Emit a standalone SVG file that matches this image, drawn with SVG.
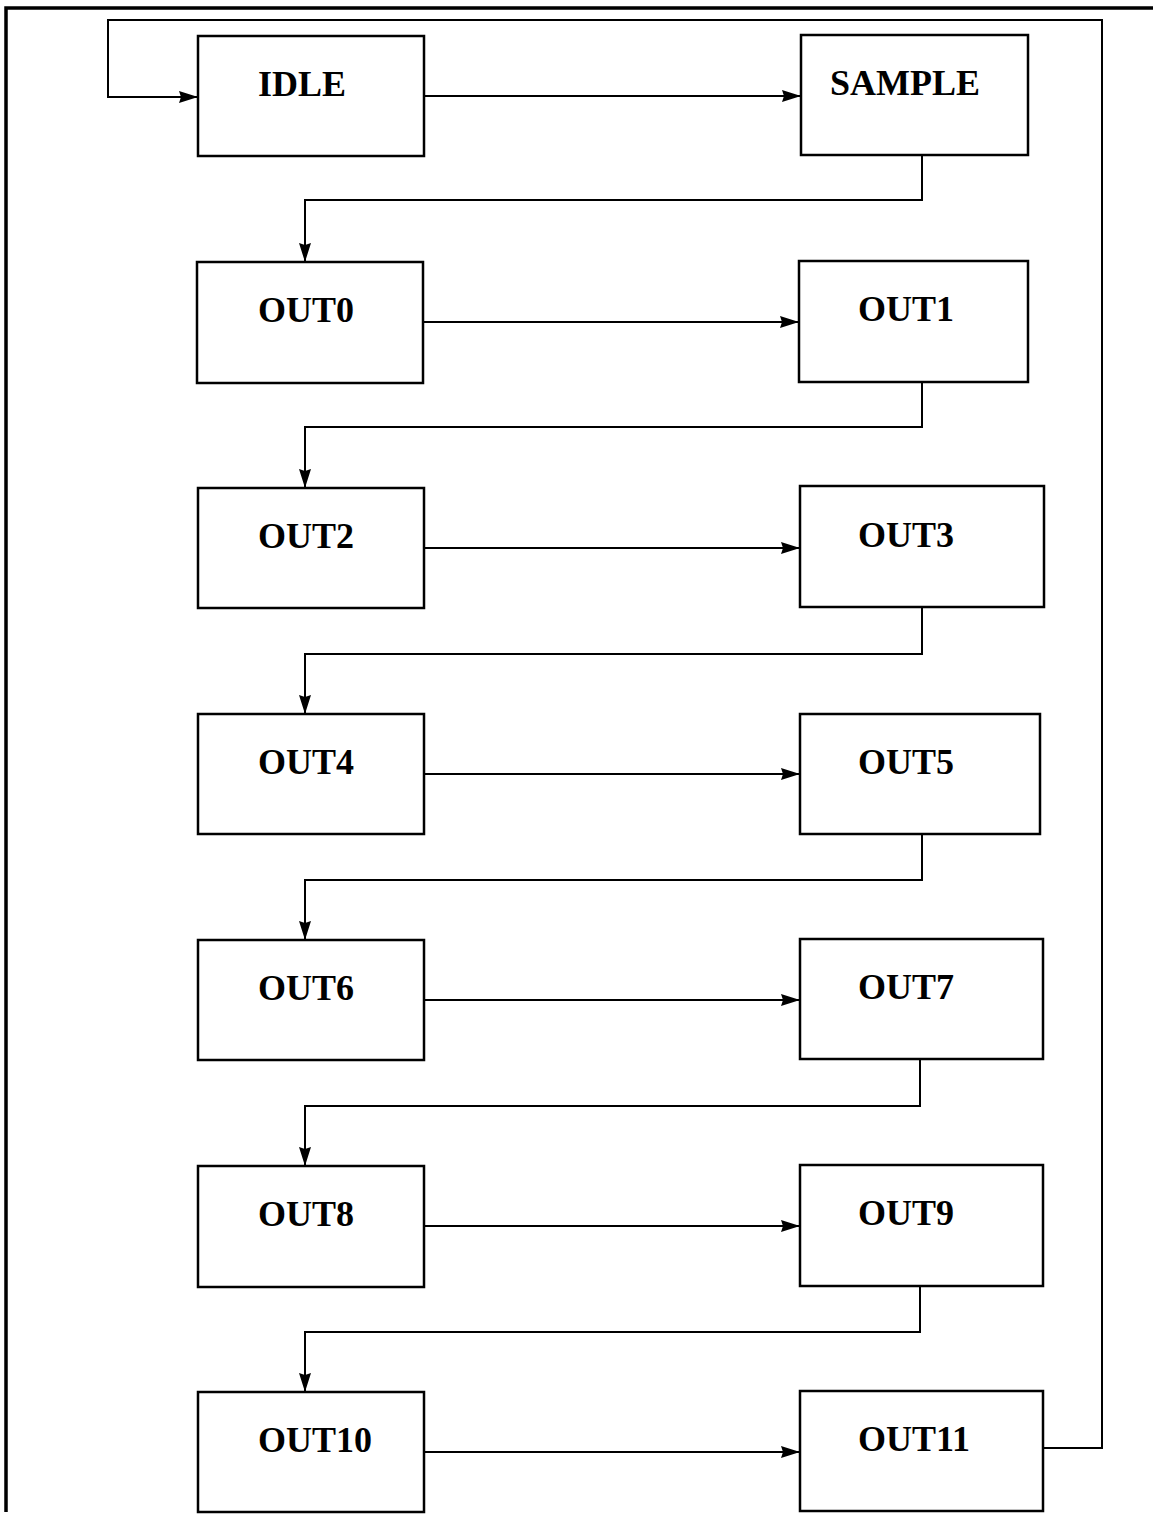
<svg xmlns="http://www.w3.org/2000/svg" width="1153" height="1514" viewBox="0 0 1153 1514">
<style>
.box{fill:#fff;stroke:#000;stroke-width:2.5}
.lbl{font-family:"Liberation Serif","Times New Roman",serif;font-weight:bold;font-size:36px;fill:#000}
.c{fill:none;stroke:#000;stroke-width:2}
.frame{fill:none;stroke:#000;stroke-width:3.5}
</style>
<defs>
<marker id="ah" markerUnits="userSpaceOnUse" markerWidth="20" markerHeight="14" refX="19" refY="7" orient="auto">
<path d="M0,1 L19,7 L0,13 L2,7 Z" fill="#000"/>
</marker>
</defs>
<rect width="1153" height="1514" fill="#fff"/>
<path class="frame" d="M6,1512 V8 H1153"/>
<g id="connectors">
<path class="c" d="M424,96 H801" marker-end="url(#ah)"/>
<path class="c" d="M922,155 V200 H305 V262" marker-end="url(#ah)"/>
<path class="c" d="M423,322 H799" marker-end="url(#ah)"/>
<path class="c" d="M922,382 V427 H305 V488" marker-end="url(#ah)"/>
<path class="c" d="M424,548 H800" marker-end="url(#ah)"/>
<path class="c" d="M922,607 V654 H305 V714" marker-end="url(#ah)"/>
<path class="c" d="M424,774 H800" marker-end="url(#ah)"/>
<path class="c" d="M922,834 V880 H305 V940" marker-end="url(#ah)"/>
<path class="c" d="M424,1000 H800" marker-end="url(#ah)"/>
<path class="c" d="M920,1059 V1106 H305 V1166" marker-end="url(#ah)"/>
<path class="c" d="M424,1226 H800" marker-end="url(#ah)"/>
<path class="c" d="M920,1286 V1332 H305 V1392" marker-end="url(#ah)"/>
<path class="c" d="M424,1452 H800" marker-end="url(#ah)"/>
<path class="c" d="M1043,1448 H1102 V20 H108 V97 H198" marker-end="url(#ah)"/>
</g>
<g id="IDLE"><rect class="box" x="198" y="36" width="226" height="120"/><text class="lbl" x="258" y="96">IDLE</text></g>
<g id="SAMPLE"><rect class="box" x="801" y="35" width="227" height="120"/><text class="lbl" x="830" y="95">SAMPLE</text></g>
<g id="OUT0"><rect class="box" x="197" y="262" width="226" height="121"/><text class="lbl" x="258" y="322">OUT0</text></g>
<g id="OUT1"><rect class="box" x="799" y="261" width="229" height="121"/><text class="lbl" x="858" y="321">OUT1</text></g>
<g id="OUT2"><rect class="box" x="198" y="488" width="226" height="120"/><text class="lbl" x="258" y="548">OUT2</text></g>
<g id="OUT3"><rect class="box" x="800" y="486" width="244" height="121"/><text class="lbl" x="858" y="547">OUT3</text></g>
<g id="OUT4"><rect class="box" x="198" y="714" width="226" height="120"/><text class="lbl" x="258" y="774">OUT4</text></g>
<g id="OUT5"><rect class="box" x="800" y="714" width="240" height="120"/><text class="lbl" x="858" y="774">OUT5</text></g>
<g id="OUT6"><rect class="box" x="198" y="940" width="226" height="120"/><text class="lbl" x="258" y="1000">OUT6</text></g>
<g id="OUT7"><rect class="box" x="800" y="939" width="243" height="120"/><text class="lbl" x="858" y="999">OUT7</text></g>
<g id="OUT8"><rect class="box" x="198" y="1166" width="226" height="121"/><text class="lbl" x="258" y="1226">OUT8</text></g>
<g id="OUT9"><rect class="box" x="800" y="1165" width="243" height="121"/><text class="lbl" x="858" y="1225">OUT9</text></g>
<g id="OUT10"><rect class="box" x="198" y="1392" width="226" height="120"/><text class="lbl" x="258" y="1452">OUT10</text></g>
<g id="OUT11"><rect class="box" x="800" y="1391" width="243" height="120"/><text class="lbl" x="858" y="1451">OUT11</text></g>
</svg>
